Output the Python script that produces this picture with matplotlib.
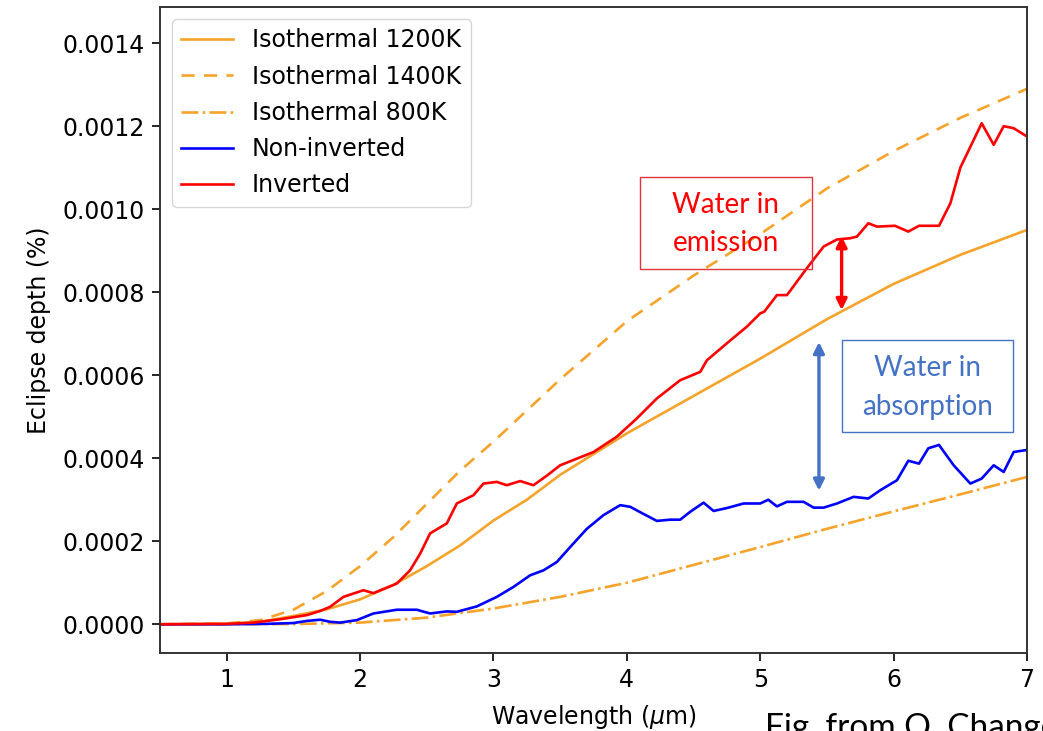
import matplotlib
matplotlib.use('Agg')
import matplotlib.pyplot as plt
import numpy as np

# --- data (eclipse depth in units of 1e-6) ---
iso1200_x = [0.5, 1.0, 1.25, 1.5, 1.75, 2.0, 2.25, 2.5, 2.75, 3.0, 3.25, 3.5, 3.75, 4.0,
             4.5, 5.0, 5.5, 6.0, 6.5, 7.0]
iso1200_y = np.array([0, 1, 6, 20, 36, 60, 95, 140, 190, 250, 300, 360, 410, 460,
                      550, 640, 735, 820, 890, 950]) * 1e-6

iso1400_x = [0.5, 1.0, 1.25, 1.5, 1.75, 2.0, 2.25, 2.5, 2.75, 3.0, 3.5, 4.0, 4.5, 5.0,
             5.5, 6.0, 6.5, 7.0]
iso1400_y = np.array([0, 2, 10, 35, 80, 140, 210, 290, 370, 440, 590, 730, 840, 940,
                      1050, 1140, 1220, 1290]) * 1e-6

iso800_x = [0.5, 1.5, 2.0, 2.5, 3.0, 3.5, 4.0, 4.5, 5.0, 5.5, 6.0, 6.5, 7.0]
iso800_y = np.array([0, 0.5, 4, 16, 38, 66, 100, 143, 186, 230, 272, 313, 355]) * 1e-6

noninv_x = [0.5, 1.0, 1.3, 1.5, 1.6, 1.7, 1.775, 1.85, 1.975, 2.1, 2.275, 2.425, 2.525,
            2.65, 2.725, 2.875, 3.025, 3.15, 3.275, 3.375, 3.475, 3.575, 3.7, 3.825,
            3.95, 4.025, 4.1, 4.225, 4.325, 4.4, 4.475, 4.575, 4.65, 4.75, 4.875, 5.0,
            5.06, 5.125, 5.2, 5.325, 5.4, 5.475, 5.575, 5.7, 5.81, 5.9, 6.025, 6.11,
            6.19, 6.26, 6.34, 6.45, 6.575, 6.66, 6.75, 6.825, 6.9, 7.0]
noninv_y = np.array([0, 0, 1, 3, 8, 11, 6, 4, 10, 26, 35, 35, 26,
                     31, 30, 43, 66, 90, 118, 130, 150, 186, 230, 263,
                     287, 283, 270, 249, 252, 252, 271, 293, 273, 280, 291, 291,
                     300, 284, 295, 295, 281, 281, 291, 307, 303, 323, 347, 394,
                     387, 424, 432, 383, 339, 351, 383, 367, 415, 420]) * 1e-6

inv_x = [0.5, 1.0, 1.2, 1.4, 1.6, 1.7, 1.775, 1.875, 1.95, 2.025, 2.1, 2.275, 2.375,
         2.45, 2.525, 2.65, 2.725, 2.85, 2.925, 3.025, 3.1, 3.2, 3.3, 3.4, 3.5, 3.75,
         3.925, 4.075, 4.225, 4.4, 4.55, 4.6, 4.75, 4.9, 5.0, 5.03, 5.125, 5.2, 5.35,
         5.475, 5.575, 5.675, 5.725, 5.81, 5.875, 6.01, 6.11, 6.19, 6.34, 6.425, 6.5,
         6.66, 6.75, 6.825, 6.9, 7.0]
inv_y = np.array([0, 1, 4, 12, 22, 32, 42, 66, 74, 82, 75, 98, 130,
                  170, 219, 243, 291, 311, 339, 343, 335, 345, 335, 358, 383, 415,
                  452, 496, 544, 588, 608, 636, 677, 717, 749, 753, 793, 793, 858,
                  910, 927, 930, 934, 966, 958, 960, 946, 960, 960, 1014, 1100,
                  1207, 1155, 1200, 1195, 1175]) * 1e-6

# annotation arrows (x, y_start, y_end)
emission_arrow = (5.61, 0.000757, 0.000935)
absorption_arrow = (5.44, 0.000322, 0.00068)

ORANGE = '#F5A32A'
ANNOT_FONT = ['Lato', 'DejaVu Sans']
FS = 17

fig = plt.figure(figsize=(10.43, 7.31), dpi=100)
ax = fig.add_axes([0.1534, 0.1067, 0.8313, 0.8837])

ax.plot(iso1200_x, iso1200_y, color=ORANGE, lw=1.9, label='Isothermal 1200K')
ax.plot(iso1400_x, iso1400_y, color=ORANGE, lw=1.9, ls='--', dashes=(5, 3.5), label='Isothermal 1400K')
ax.plot(iso800_x, iso800_y, color=ORANGE, lw=1.9, ls='-.', label='Isothermal 800K')
ax.plot(noninv_x, noninv_y, color='blue', lw=1.9, label='Non-inverted')
ax.plot(inv_x, inv_y, color='red', lw=1.9, label='Inverted')

ax.set_xlim(0.5, 7)
ax.set_ylim(-0.0000692, 0.001487)
ax.set_yticks(np.arange(0, 0.00141, 0.0002))
ax.yaxis.set_major_formatter(matplotlib.ticker.FormatStrFormatter('%.4f'))
ax.tick_params(labelsize=FS, length=6, width=1.2, pad=5)
for s in ax.spines.values():
    s.set_color('#333333')
    s.set_linewidth(1.4)

ax.set_xlabel('Wavelength ($\\mu$m)', fontsize=FS, labelpad=8)
ax.set_ylabel('Eclipse depth (%)', fontsize=FS, labelpad=8)

leg = ax.legend(loc='upper left', fontsize=FS, handlelength=2.2, labelspacing=0.52,
                borderaxespad=0.5, handletextpad=0.8, fancybox=True)

# arrows
xa, y0, y1 = emission_arrow
ax.annotate('', xy=(xa, y1), xytext=(xa, y0),
            arrowprops=dict(arrowstyle='<|-|>', color='red', lw=2.4, mutation_scale=16,
                            shrinkA=0, shrinkB=0))
xa, y0, y1 = absorption_arrow
ax.annotate('', xy=(xa, y1), xytext=(xa, y0),
            arrowprops=dict(arrowstyle='<|-|>', color='#4472C4', lw=2.4, mutation_scale=16,
                            shrinkA=0, shrinkB=0))

# annotation boxes (figure pixel coordinates -> fraction)
W, H = 1043, 731
fig.patches.append(plt.Rectangle((640 / W, 1 - 269 / H), 172 / W, 92 / H, transform=fig.transFigure,
                                 fill=False, edgecolor='#E0343C', lw=1.0))
fig.text(726 / W, 1 - 205 / H, 'Water in', color='#FF0000', fontsize=20, ha='center', va='center',
         family=ANNOT_FONT)
fig.text(726 / W, 1 - 243 / H, 'emission', color='#FF0000', fontsize=20, ha='center', va='center',
         family=ANNOT_FONT)

fig.patches.append(plt.Rectangle((842 / W, 1 - 432 / H), 171 / W, 92 / H, transform=fig.transFigure,
                                 fill=False, edgecolor='#4472C4', lw=1.0))
fig.text(928 / W, 1 - 368 / H, 'Water in', color='#4472C4', fontsize=20, ha='center', va='center',
         family=ANNOT_FONT)
fig.text(928 / W, 1 - 407 / H, 'absorption', color='#4472C4', fontsize=20, ha='center', va='center',
         family=ANNOT_FONT)

fig.text(765 / W, 1 - 713 / H, 'Fig. from Q. Changeat', color='black', fontsize=24, ha='left', va='top',
         family=ANNOT_FONT)

fig.savefig('out.png', dpi=100)
